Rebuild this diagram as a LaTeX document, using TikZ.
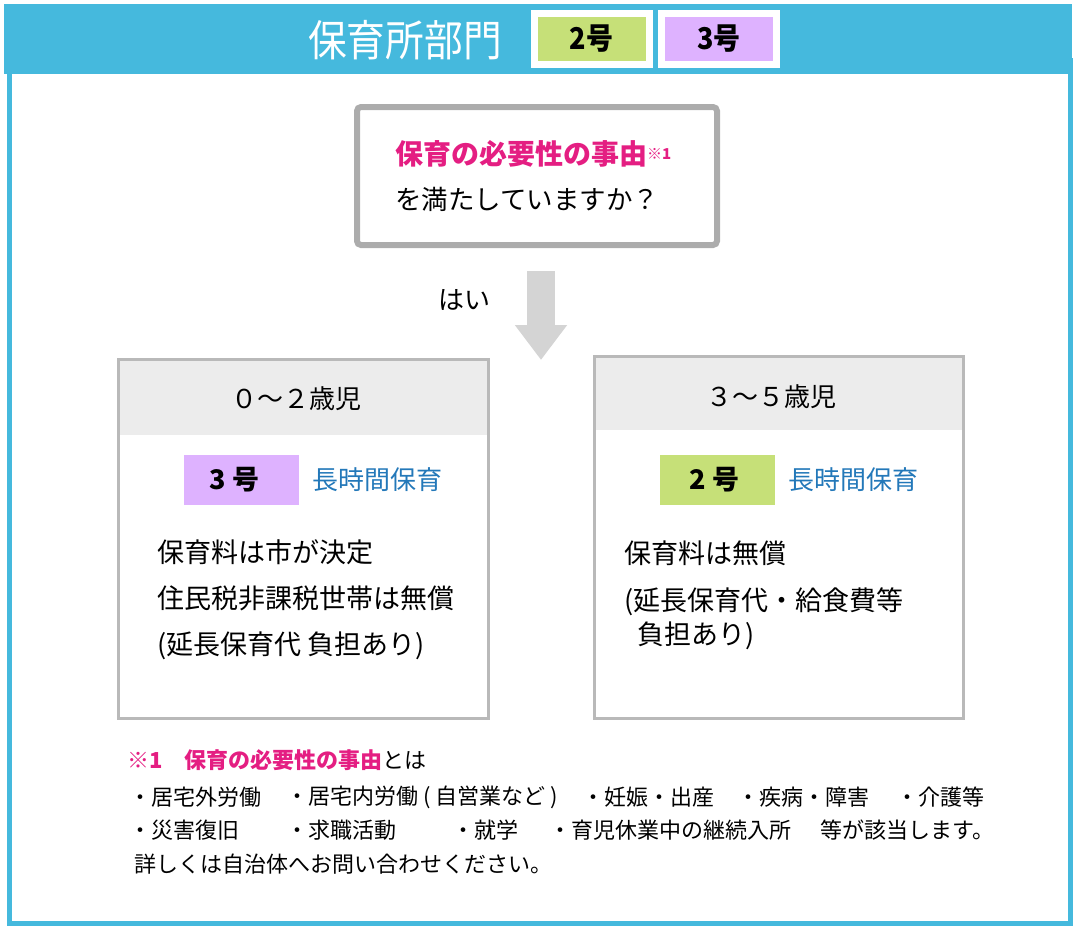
\documentclass[tikz,border=0pt]{standalone}
\usepackage{fontspec}
\setmainfont{Noto Sans CJK JP}
\newfontfamily\condfont[FakeStretch=0.9]{Noto Sans CJK JP}
\usepackage{tikz}
\usetikzlibrary{positioning,arrows.meta}

\definecolor{barblue}{RGB}{69,185,221}
\definecolor{taggreen}{RGB}{198,224,120}
\definecolor{tagpurple}{RGB}{222,178,255}
\definecolor{questgray}{RGB}{172,172,172}
\definecolor{boxgray}{RGB}{185,185,185}
\definecolor{headgray}{RGB}{236,236,236}
\definecolor{arrowgray}{RGB}{212,212,212}
\definecolor{needpink}{RGB}{228,30,130}
\definecolor{longblue}{RGB}{35,120,185}

\newcommand{\fsz}[1]{\fontsize{#1}{#1}\selectfont}

\begin{document}
\begin{tikzpicture}[x=1pt,y=-1pt,inner sep=0pt]
    \tikzset{
      tag/.style={draw=white,line width=7pt,minimum width=115pt,minimum height=51pt,font=\condfont\bfseries\fsz{30}},
      questbox/.style={draw=questgray,line width=6pt,rounded corners=4pt,minimum width=360pt,minimum height=138pt},
      agebox/.style={minimum width=369pt,minimum height=358pt},
      agehead/.style={fill=headgray,minimum width=369pt},
      boxline/.style={draw=boxgray,line width=3pt},
      badge/.style={minimum width=115pt,minimum height=50pt},
      badgetext/.style={font=\bfseries\fsz{27}},
      bodytext/.style={anchor=west,font=\fsz{27}},
      longtext/.style={text=longblue,font=\fsz{26}},
      note/.style={anchor=west,font=\fsz{22}},
      bigarrow/.style={arrowgray,line width=28pt,-{Triangle[length=35pt,width=50pt]}}
    }
    \useasboundingbox (0,0) rectangle (1074,926);
    % frame and title bar
    \draw[barblue,line width=5pt] (9,60) rectangle (1070,923);
    \fill[barblue] (4,4) rectangle (1072,74);
    \node[text=white,font=\condfont\fsz{43}] (title) at (405,40) {保育所部門};
    \node[tag,fill=taggreen] (tagtwo) at (591.5,39) {2号};
    \node[tag,fill=tagpurple] (tagthree) [right=5.5pt of tagtwo] {3号};

    % question
    \node[questbox] (quest) at (537,176) {};
    \node[anchor=west,text=needpink,font=\bfseries\fsz{28}] (qneed) at (395,154)
      {保育の必要性の事由\raisebox{5pt}{\fsz{15}※1}};
    \node[anchor=west,font=\fsz{26.5}] (qmeet) at (395,199) {を満たしていますか？};
    \node[anchor=west,font=\fsz{26}] (yes) at (438,300) {はい};
    \coordinate (arrowtip) at (541,360);
    \draw[bigarrow] ([xshift=4pt,yshift=-23pt]quest.south) -- (arrowtip);

    % 0-2 years
    \node[agebox] (young) at (303.5,539) {};
    \node[agehead,minimum height=75pt,anchor=north] (yhead) at (young.north) {};
    \draw[boxline] (young.north west) rectangle (young.south east);
    \node[font=\fsz{26}] (yage) at ([xshift=-7.5pt,yshift=-1.5pt]yhead.center) {０～２歳児};
    \node[badge,fill=tagpurple] (ybadge) at (241.5,480) {};
    \node[badgetext] (ybadgetxt) at ([xshift=-7pt]ybadge.center) {3 号};
    \node[longtext] (ylong) [right=13pt of ybadge] {長時間保育};
    \node[bodytext] (yfee) at (157,552) {保育料は市が決定};
    \node[bodytext] (yfree) at ([yshift=-46pt]yfee.west) {住民税非課税世帯は無償};
    \node[bodytext] (yextra) at ([yshift=-48pt]yfree.west) {(延長保育代 負担あり)};

    % 3-5 years
    \node[agebox,minimum width=368pt,minimum height=361pt] (older) at (779,537.5) {};
    \node[agehead,minimum width=368pt,minimum height=73pt,anchor=north] (ohead) at (older.north) {};
    \draw[boxline] (older.north west) rectangle (older.south east);
    \node[font=\fsz{26}] (oage) at ([xshift=-7.5pt,yshift=-3.5pt]ohead.center) {３～５歳児};
    \node[badge,fill=taggreen] (obadge) at (717.5,480) {};
    \node[badgetext] (obadgetxt) at ([xshift=-3pt]obadge.center) {2 号};
    \node[longtext] (olong) [right=13pt of obadge] {長時間保育};
    \node[bodytext] (ofee) at (624,553) {保育料は無償};
    \node[bodytext] (oextra) at ([yshift=-49pt]ofee.west) {(延長保育代・給食費等};
    \node[bodytext] (oextra2) at (637,636) {負担あり)};

    % note
    \node[note,text=needpink,font=\bfseries\fsz{22}] (nmark) at (127,760) {※1};
    \node[note] (nhead) at (184,760) {\textcolor{needpink}{\bfseries 保育の必要性の事由}とは};
    \node[note] (nwork) at (129,797) {・居宅外労働};
    \node[note] (nhome) at (286,797) {・居宅内労働 ( 自営業など )};
    \node[note] (nbirth) at (582,797) {・妊娠・出産};
    \node[note] (nill) at (737,797) {・疾病・障害};
    \node[note] (ncare) at (896,797) {・介護等};
    \node[note] (ndisaster) at (129,830) {・災害復旧};
    \node[note] (njob) at (286,830) {・求職活動};
    \node[note] (nschool) at (452,830) {・就学};
    \node[note] (nleave) at (549,830) {・育児休業中の継続入所};
    \node[note] (netc) at (820,830) {等が該当します。};
    \node[note] (nask) at (134,864) {詳しくは自治体へお問い合わせください。};
\end{tikzpicture}
\end{document}
